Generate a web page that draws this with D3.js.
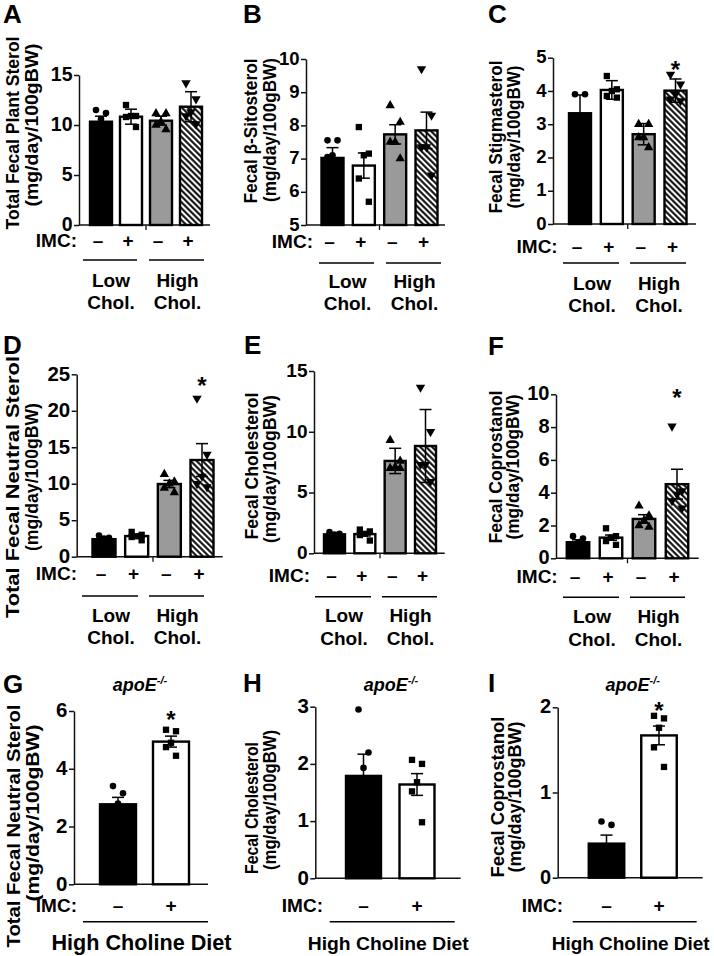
<!DOCTYPE html>
<html><head><meta charset="utf-8">
<script src="https://cdn.jsdelivr.net/npm/d3@7"></script>
<style>
body{margin:0;background:#fff}
svg{display:block}
text{font-family:"Liberation Sans",Arial,Helvetica,sans-serif;font-weight:bold;fill:#000}
</style>
</head><body>
<svg id="fig" width="714" height="956"></svg>
<script>
// ---------------- DATA ----------------
const categories4 = ["Low Chol. IMC-", "Low Chol. IMC+", "High Chol. IMC-", "High Chol. IMC+"];
const categories2 = ["High Choline IMC-", "High Choline IMC+"];
const imcSigns4 = ["–", "+", "–", "+"];
const imcSigns2 = ["–", "+"];
const dietGroups4 = [["Low", "Chol."], ["High", "Chol."]];
const dietLabel2 = "High Choline Diet";
const fills4 = ["black", "white", "gray", "hatch"];
const fills2 = ["black", "white"];
const markers4 = ["circle", "square", "triangle", "triangleDown"];
const markers2 = ["circle", "square"];
const unitLabel = "(mg/day/100gBW)";

// Panel A
const titleA = "Total Fecal Plant Sterol";
const ticksA = [0, 5, 10, 15];
const meanA = [10.33, 10.83, 10.43, 11.83];
const errA = [0.55, 0.75, 0.45, 1.5];
const ptsA = [[11.5, 11.2, 10.6, 9.6, 8.75], [12.0, 10.9, 10.9, 10.8, 9.8], [11.15, 11.15, 10.3, 10.0, 9.55], [14.2, 12.6, 11.3, 10.9, 10.1]];
const sigA = [null, null, null, null];
// Panel B
const titleB = "Fecal β-Sitosterol";
const ticksB = [5, 6, 7, 8, 9, 10];
const meanB = [7.02, 6.79, 7.73, 7.85];
const errB = [0.31, 0.38, 0.29, 0.55];
const ptsB = [[7.55, 7.55, 7.1, 7.05, 5.85], [7.95, 7.15, 7.1, 6.4, 5.7], [8.6, 8.1, 7.5, 7.5, 7.0], [9.7, 8.3, 7.35, 7.35, 6.5]];
const sigB = [null, null, null, null];
// Panel C
const titleC = "Fecal Stigmasterol";
const ticksC = [0, 1, 2, 3, 4, 5];
const meanC = [3.33, 4.03, 2.70, 4.01];
const errC = [0.55, 0.28, 0.32, 0.35];
const ptsC = [[3.9, 3.9, 3.2, 3.0, 2.65], [4.45, 4.05, 4.0, 3.85, 3.8], [3.0, 3.0, 2.6, 2.6, 2.3], [4.5, 4.2, 3.9, 3.75, 3.7]];
const sigC = [null, null, null, 4.78];
// Panel D
const titleD = "Total Fecal Neutral Sterol";
const ticksD = [0, 5, 10, 15, 20, 25];
const meanD = [2.4, 2.83, 9.96, 13.25];
const errD = [0.15, 0.2, 0.5, 2.25];
const ptsD = [[2.9, 2.6, 2.5, 2.2, 1.8], [3.4, 3.0, 2.8, 2.7, 2.25], [11.3, 10.3, 10.0, 9.4, 8.8], [21.7, 14.0, 11.0, 10.0, 9.55]];
const sigD = [null, null, null, 24.07];
// Panel E
const titleE = "Fecal Cholesterol";
const ticksE = [0, 5, 10, 15];
const meanE = [1.56, 1.58, 7.6, 8.83];
const errE = [0.08, 0.15, 1.04, 3.0];
const ptsE = [[1.75, 1.6, 1.55, 1.5, 1.4], [1.95, 1.8, 1.6, 1.5, 1.05], [9.3, 7.6, 7.1, 7.0, 7.0], [13.65, 10.0, 7.3, 7.3, 5.9]];
const sigE = [null, null, null, null];
// Panel F
const titleF = "Fecal Coprostanol";
const ticksF = [0, 2, 4, 6, 8, 10];
const meanF = [0.98, 1.26, 2.4, 4.52];
const errF = [0.15, 0.16, 0.26, 0.91];
const ptsF = [[1.35, 1.2, 0.95, 0.75, 0.65], [1.83, 1.35, 1.25, 1.05, 0.82], [3.2, 2.6, 2.3, 2.0, 1.9], [8.05, 4.1, 3.9, 3.5, 3.05]];
const sigF = [null, null, null, 10.1];
// Panel G
const titleG = "Total Fecal Neutral Sterol";
const ticksG = [0, 2, 4, 6];
const meanG = [2.77, 4.94];
const errG = [0.24, 0.19];
const ptsG = [[3.4, 3.15, 2.8, 2.4, 2.1], [5.35, 5.3, 4.9, 4.75, 4.45]];
const sigG = [null, 5.86];
// Panel H
const titleH = "Fecal Cholesterol";
const ticksH = [0, 1, 2, 3];
const meanH = [1.79, 1.64];
const errH = [0.38, 0.19];
const ptsH = [[2.95, 2.2, 1.93, 1.1, 0.77], [2.07, 2.0, 1.68, 1.52, 0.98]];
const sigH = [null, null];
// Panel I
const titleI = "Fecal Coprostanol";
const ticksI = [0, 1, 2];
const meanI = [0.40, 1.67];
const errI = [0.10, 0.11];
const ptsI = [[0.66, 0.62, 0.3, 0.25, 0.17], [1.9, 1.87, 1.76, 1.53, 1.3]];
const sigI = [null, 2.01];
const genotype = "apoE";
const genotypeSup = "-/-";

// ---------------- LAYOUT ----------------
const panels = [
  {letter:"A", title:titleA, ticks:ticksA, mean:meanA, err:errA, pts:ptsA, sig:sigA,
   L:{lx:3, ly:23, ax:79, yb:225, yt:75, xEnd:210, c:[101,191], bw:22, tfs:19.5, yfs:18.5,
      ylx:[13,32], ylc:[133,125], yll:[193,163], imcR:77, imcB:247, lineY:260,
      segs:[[83,137],[149,204]], lowB:287, cholB:309}},
  {letter:"B", title:titleB, ticks:ticksB, mean:meanB, err:errB, pts:ptsB, sig:sigB,
   L:{lx:243, ly:23, ax:306, yb:225, yt:59, xEnd:445, c:[332.5,426.5], bw:22, tfs:18.5, yfs:18,
      ylx:[251,270], ylc:[131,130], yll:[145,144], imcR:313, imcB:248, lineY:263,
      segs:[[319,374],[386,441]], lowB:288, cholB:310}},
  {letter:"C", title:titleC, ticks:ticksC, mean:meanC, err:errC, pts:ptsC, sig:sigC,
   L:{lx:488, ly:23, ax:553, yb:224, yt:57.7, xEnd:696, c:[580,675.5], bw:22, tfs:18.5, yfs:18,
      ylx:[496,513.7], ylc:[137,137], yll:[153,143], imcR:557.7, imcB:253, lineY:263,
      segs:[[563,619],[630,686]], lowB:290, cholB:312}},
  {letter:"D", title:titleD, ticks:ticksD, mean:meanD, err:errD, pts:ptsD, sig:sigD,
   L:{lx:3, ly:354, ax:76.7, yb:556.7, yt:374.3, xEnd:222.7, c:[104,202], bw:23, tfs:20.5, yfs:18.5,
      ylx:[13,32], ylc:[487,477], yll:[262,148], imcR:77, imcB:579.5, lineY:596,
      segs:[[82,138],[149,204]], lowB:621.5, cholB:644}},
  {letter:"E", title:titleE, ticks:ticksE, mean:meanE, err:errE, pts:ptsE, sig:sigE,
   L:{lx:244, ly:354, ax:314, yb:553.3, yt:371, xEnd:444.7, c:[334.5,425.5], bw:21, tfs:19, yfs:18,
      ylx:[251.3,269.7], ylc:[466,469], yll:[147,148], imcR:310, imcB:581.7, lineY:596.7,
      segs:[[315,371],[382,437]], lowB:622, cholB:645}},
  {letter:"F", title:titleF, ticks:ticksF, mean:meanF, err:errF, pts:ptsF, sig:sigF,
   L:{lx:488, ly:355, ax:556, yb:558.3, yt:394.3, xEnd:698.7, c:[578,677], bw:22.5, tfs:20, yfs:18,
      ylx:[496,512.7], ylc:[467,467], yll:[153,145], imcR:557.7, imcB:583.3, lineY:597.3,
      segs:[[563,619],[630,685]], lowB:623, cholB:646}},
  {letter:"G", title:titleG, ticks:ticksG, mean:meanG, err:errG, pts:ptsG, sig:sigG,
   L:{lx:3, ly:693, ax:74, yb:884.3, yt:711, xEnd:208, c:[118,171], bw:36, tfs:20.5, yfs:19,
      ylx:[13,32], ylc:[826,813], yll:[243,177], imcR:77, imcB:911.7, lineY:921.7,
      segs:[[83,208]], dietB:950, dietLen:180, dietFs:21.5, tx:140, ty:691}},
  {letter:"H", title:titleH, ticks:ticksH, mean:meanH, err:errH, pts:ptsH, sig:sigH,
   L:{lx:243, ly:692, ax:315.3, yb:878.3, yt:706.7, xEnd:460.7, c:[363.5,417], bw:35, tfs:20.5, yfs:18,
      ylx:[251.3,269.7], ylc:[808,800], yll:[132,140], imcR:323, imcB:911.7, lineY:921.7,
      segs:[[329.7,454.7]], dietB:950, dietLen:161, dietFs:19, tx:391, ty:691}},
  {letter:"I", title:titleI, ticks:ticksI, mean:meanI, err:errI, pts:ptsI, sig:sigI,
   L:{lx:488, ly:692, ax:557.7, yb:877.7, yt:707.3, xEnd:702.7, c:[606.5,659], bw:35.5, tfs:20, yfs:18,
      ylx:[497.7,514.3], ylc:[797,797], yll:[161,151], imcR:563, imcB:911.7, lineY:921.7,
      segs:[[572.7,696.7]], dietB:950, dietLen:158, dietFs:18.8, tx:632.7, ty:691}}
];

const svg = d3.select("#fig");
svg.append("rect").attr("width",714).attr("height",956).attr("fill","#fff");
const defs = svg.append("defs");
const pat = defs.append("pattern").attr("id","hatch").attr("patternUnits","userSpaceOnUse")
  .attr("width",4.2).attr("height",4.2).attr("patternTransform","rotate(-45)");
pat.append("rect").attr("width",4.2).attr("height",4.2).attr("fill","#fff");
pat.append("line").attr("x1",2.1).attr("x2",2.1).attr("y1",0).attr("y2",4.2)
  .attr("stroke","#000").attr("stroke-width",2);

const fillColor = {black:"#000", white:"#fff", gray:"#9a9a9a", hatch:"url(#hatch)"};
const jitter = [-5, 5, 0, -5, 5];
const symbolFor = {circle:d3.symbolCircle, square:d3.symbolSquare, triangle:d3.symbolTriangle, triangleDown:d3.symbolTriangle};
const symbolSize = {circle:34, square:40, triangle:38, triangleDown:38};

panels.forEach(p => {
  const L = p.L;
  const four = p.mean.length === 4;
  const cats = four ? categories4 : categories2;
  const fills = four ? fills4 : fills2;
  const marks = four ? markers4 : markers2;
  const signs = four ? imcSigns4 : imcSigns2;
  const g = svg.append("g");

  const y = d3.scaleLinear().domain([p.ticks[0], p.ticks[p.ticks.length-1]]).range([L.yb, L.yt]);
  const x = d3.scalePoint().domain(cats).range(L.c);

  // letter
  g.append("text").attr("x",L.lx).attr("y",L.ly).attr("font-size",26).text(p.letter);

  // y axis
  const ax = g.append("g").attr("transform",`translate(${L.ax},0)`)
    .call(d3.axisLeft(y).tickValues(p.ticks).tickSize(5).tickSizeOuter(0).tickPadding(1.5).tickFormat(d3.format("d")));
  ax.select(".domain").attr("stroke","#111").attr("stroke-width",1.5);
  ax.selectAll(".tick line").attr("stroke","#111").attr("stroke-width",1.5);
  ax.selectAll(".tick text").attr("font-size",L.tfs).attr("font-family",null).attr("fill","#000").attr("dy","0.28em");

  // x axis
  g.append("line").attr("x1",L.ax).attr("x2",L.xEnd).attr("y1",L.yb).attr("y2",L.yb)
    .attr("stroke","#111").attr("stroke-width",1.5);
  if (four) {
    const mx = (x(cats[1]) + x(cats[2])) / 2;
    g.append("line").attr("x1",mx).attr("x2",mx).attr("y1",L.yb).attr("y2",L.yb+5)
      .attr("stroke","#111").attr("stroke-width",1.3);
  }

  // y label
  [p.title, unitLabel].forEach((t,i) => {
    g.append("text").attr("transform",`translate(${L.ylx[i]},${L.ylc[i]}) rotate(-90)`)
      .attr("text-anchor","middle").attr("dy","0.35em").attr("font-size",L.yfs)
      .attr("textLength",L.yll[i]).attr("lengthAdjust","spacingAndGlyphs").text(t);
  });

  // bars
  g.selectAll("rect.bar").data(p.mean).enter().append("rect").attr("class","bar")
    .attr("x",(d,i)=>x(cats[i]) - L.bw/2).attr("width",L.bw)
    .attr("y",d=>y(d)).attr("height",d=>L.yb - y(d))
    .attr("fill",(d,i)=>fillColor[fills[i]]).attr("stroke","#000").attr("stroke-width",2.4);

  // points
  p.pts.forEach((arr,i) => {
    const sym = d3.symbol().type(symbolFor[marks[i]]).size(symbolSize[marks[i]]);
    arr.forEach((v,j) => {
      const px = x(cats[i]) + jitter[j], py = y(v);
      g.append("path").attr("d",sym())
        .attr("transform",`translate(${px},${py})` + (marks[i]==="triangleDown" ? " rotate(180)" : ""))
        .attr("fill","#000");
    });
  });

  // error bars
  p.mean.forEach((m,i) => {
    const cx = x(cats[i]), e = p.err[i], cw = 6;
    const eg = g.append("g").attr("stroke","#000").attr("stroke-width",1.5);
    eg.append("line").attr("x1",cx).attr("x2",cx).attr("y1",y(m-e)).attr("y2",y(m+e));
    eg.append("line").attr("x1",cx-cw).attr("x2",cx+cw).attr("y1",y(m+e)).attr("y2",y(m+e));
    eg.append("line").attr("x1",cx-cw).attr("x2",cx+cw).attr("y1",y(m-e)).attr("y2",y(m-e));
  });

  // significance stars
  p.sig.forEach((s,i) => {
    if (s == null) return;
    g.append("text").attr("x",x(cats[i])).attr("y",y(s)+13).attr("text-anchor","middle")
      .attr("font-size",24).text("*");
  });

  // IMC row
  g.append("text").attr("x",L.imcR).attr("y",L.imcB).attr("text-anchor","end").attr("font-size",19).text("IMC:");
  signs.forEach((s,i) => {
    g.append("text").attr("x",x(cats[i]) - (four ? 3 : 0)).attr("y",L.imcB).attr("text-anchor","middle")
      .attr("font-size",19).text(s);
  });

  // group lines and labels
  L.segs.forEach((sg,k) => {
    g.append("line").attr("x1",sg[0]).attr("x2",sg[1]).attr("y1",L.lineY).attr("y2",L.lineY)
      .attr("stroke","#000").attr("stroke-width",1.5);
    const cx = (sg[0]+sg[1])/2;
    if (four) {
      g.append("text").attr("x",cx+1).attr("y",L.lowB).attr("text-anchor","middle").attr("font-size",19).text(dietGroups4[k][0]);
      g.append("text").attr("x",cx+1).attr("y",L.cholB).attr("text-anchor","middle").attr("font-size",19).text(dietGroups4[k][1]);
    } else {
      g.append("text").attr("x",cx-4).attr("y",L.dietB).attr("text-anchor","middle").attr("font-size",L.dietFs)
        .attr("textLength",L.dietLen).attr("lengthAdjust","spacingAndGlyphs").text(dietLabel2);
    }
  });

  // genotype title
  if (!four) {
    const t = g.append("text").attr("x",L.tx).attr("y",L.ty).attr("text-anchor","middle")
      .attr("font-size",18).attr("font-style","italic");
    t.append("tspan").text(genotype);
    t.append("tspan").attr("dy",-7).attr("font-size",11).text(genotypeSup);
  }
});
</script>
</body></html>
